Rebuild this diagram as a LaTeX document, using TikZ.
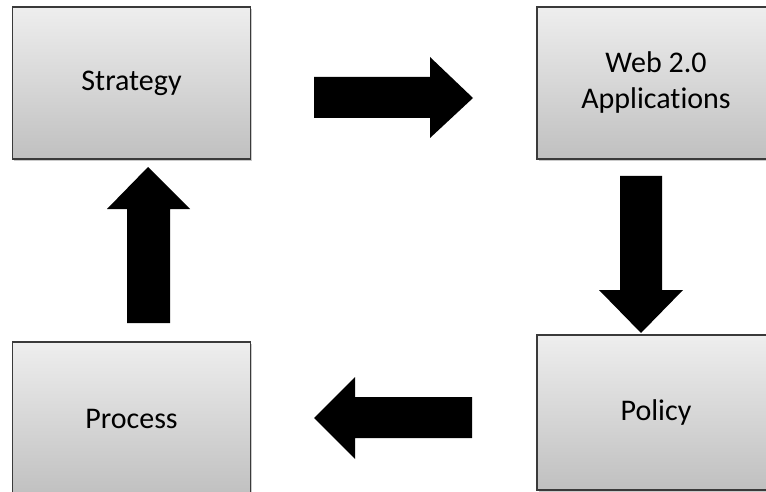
\documentclass[tikz,border=0pt]{standalone}
\usepackage{fontspec}
\setmainfont[Ligatures={NoCommon}]{Carlito}
\usetikzlibrary{shadows}
\definecolor{boxtop}{HTML}{EEEEEE}
\definecolor{boxbottom}{HTML}{C0C0C0}
\definecolor{boxline}{HTML}{3A3A3A}
\begin{document}
\begin{tikzpicture}[x=1pt,y=-1pt,
  stagebox/.style={draw=boxline, line width=1.3pt, top color=boxtop, bottom color=boxbottom,
    minimum width=238pt, minimum height=152pt, inner sep=0pt, align=center,
    font=\fontsize{30}{36}\selectfont, text=black,
    drop shadow={shadow xshift=1.5pt, shadow yshift=-2pt, opacity=0.35, fill=black!60}},
  blockarrow/.style={fill=black}]
\useasboundingbox (0,0) rectangle (766,492);

% the four stages of the cycle
\node[stagebox] (strategy) at (131.5,83) {Strategy};
\node[stagebox] (web) at (656,83) {Web 2.0\\Applications};
\node[stagebox, minimum height=155pt] (policy) at (656,412.5) {Policy};
\node[stagebox, minimum height=154pt] (process) at (131.5,419) {Process};

% block arrows between the stages
\fill[blockarrow] (314,77) -- (430,77) -- (430,57) -- (473,98) -- (430,138) -- (430,118) -- (314,118) -- cycle;
\fill[blockarrow] (620,176) -- (662,176) -- (662,290) -- (683,290) -- (641,333) -- (599,290) -- (620,290) -- cycle;
\fill[blockarrow] (472,397) -- (355,397) -- (355,377) -- (314,418) -- (355,459) -- (355,438) -- (472,438) -- cycle;
\fill[blockarrow] (127,323) -- (127,209) -- (107,209) -- (148,167) -- (190,209) -- (170,209) -- (170,323) -- cycle;
\end{tikzpicture}
\end{document}
